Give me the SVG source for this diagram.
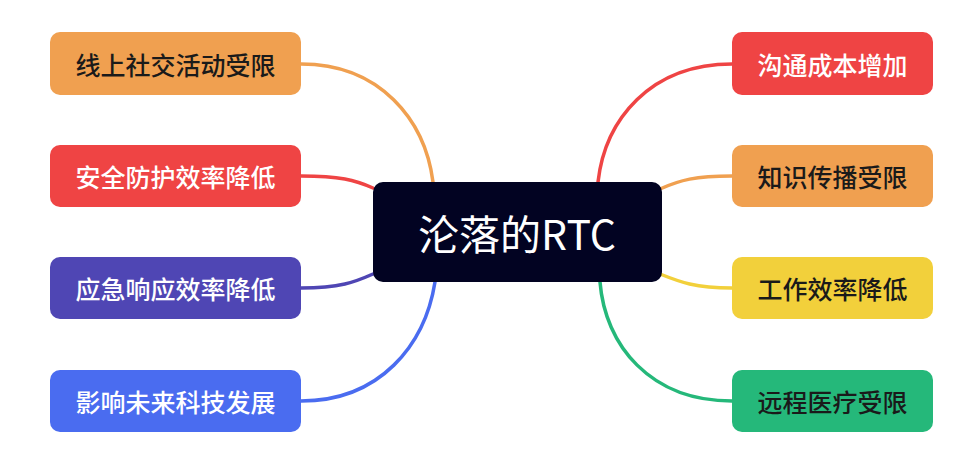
<svg xmlns="http://www.w3.org/2000/svg" width="960" height="469" viewBox="0 0 960 469">
<style>
.lbl{font-family:"Noto Sans CJK SC","Noto Sans",sans-serif;font-size:25px;text-anchor:middle;dominant-baseline:central;font-weight:500}
.dk{fill:#1a1a1a}.lt{fill:#ffffff}
.c{fill:none;stroke-width:3.5;stroke-linecap:round}
</style>
<rect width="960" height="469" fill="#ffffff"/>
<g id="connectors">
<path class="c" stroke="#F0A050" d="M301,64 C380,64 425,120 433,182"/>
<path class="c" stroke="#EF4444" d="M301,176 C340,176 355,180 373,188"/>
<path class="c" stroke="#4F46B4" d="M301,288 C340,288 355,282 373,274"/>
<path class="c" stroke="#4A6CF0" d="M301,401 C380,401 425,345 435,282"/>
<path class="c" stroke="#EF4444" d="M732,64 C650,64 605,120 598,182"/>
<path class="c" stroke="#F0A050" d="M732,176 C695,176 680,180 660,189"/>
<path class="c" stroke="#F2D03B" d="M732,288 C695,288 680,282 660,274"/>
<path class="c" stroke="#25B87A" d="M732,401 C650,401 605,345 600,282"/>
</g>
<g id="center">
<rect x="373" y="182" width="289" height="100" rx="10" fill="#020322"/>
<text x="517" y="232" class="lbl lt" style="font-size:41px;font-weight:400">沦落的RTC</text>
</g>
<g id="n1"><rect x="50" y="32" width="251" height="63" rx="10" fill="#F0A050"/><text x="175.5" y="63.5" class="lbl dk">线上社交活动受限</text></g>
<g id="n2"><rect x="50" y="145" width="251" height="62" rx="10" fill="#EF4444"/><text x="175.5" y="176" class="lbl lt">安全防护效率降低</text></g>
<g id="n3"><rect x="50" y="257" width="251" height="62" rx="10" fill="#4F46B4"/><text x="175.5" y="288" class="lbl lt">应急响应效率降低</text></g>
<g id="n4"><rect x="50" y="370" width="251" height="62" rx="10" fill="#4A6CF0"/><text x="175.5" y="401" class="lbl lt">影响未来科技发展</text></g>
<g id="n5"><rect x="732" y="32" width="201" height="63" rx="10" fill="#EF4444"/><text x="832.5" y="63.5" class="lbl lt">沟通成本增加</text></g>
<g id="n6"><rect x="732" y="145" width="201" height="62" rx="10" fill="#F0A050"/><text x="832.5" y="176" class="lbl dk">知识传播受限</text></g>
<g id="n7"><rect x="732" y="257" width="201" height="62" rx="10" fill="#F2D03B"/><text x="832.5" y="288" class="lbl dk">工作效率降低</text></g>
<g id="n8"><rect x="732" y="370" width="201" height="62" rx="10" fill="#25B87A"/><text x="832.5" y="401" class="lbl dk">远程医疗受限</text></g>
</svg>
